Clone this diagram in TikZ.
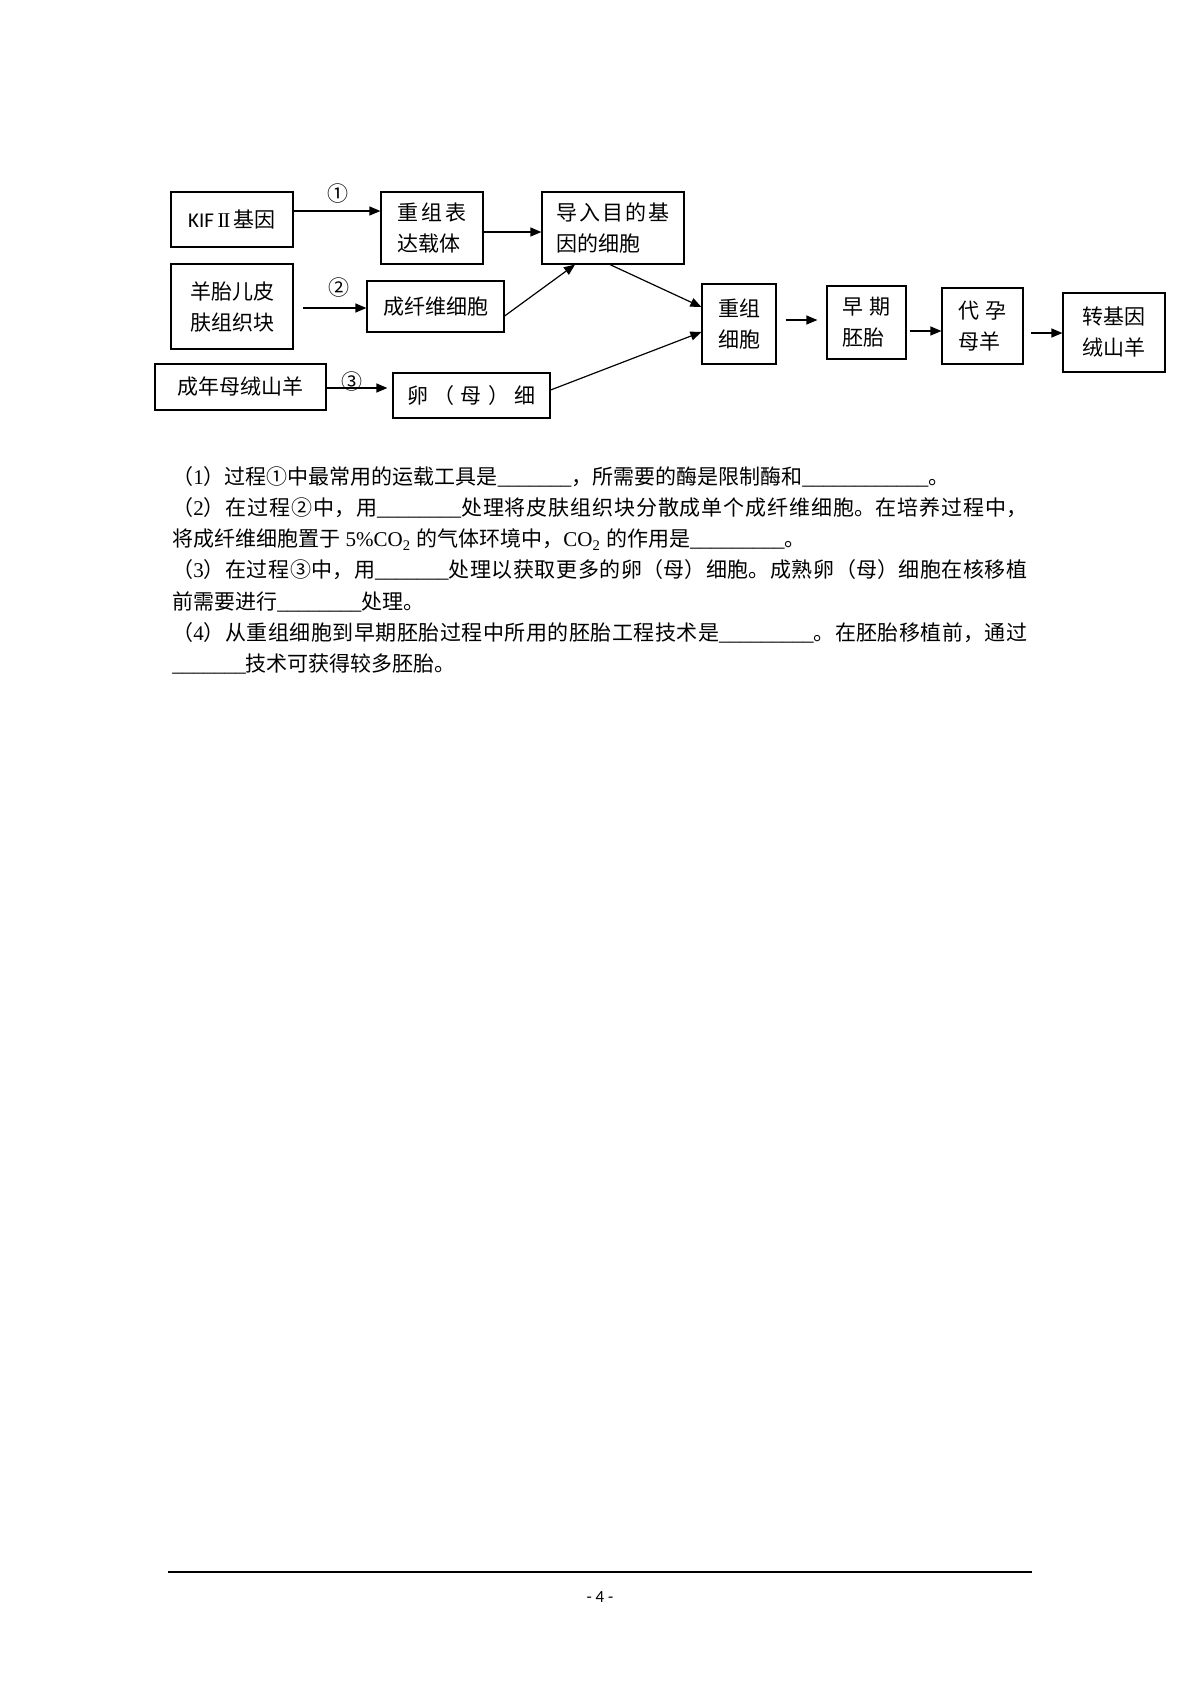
\documentclass[tikz,border=0pt]{standalone}
\usepackage{fontspec}
\setmainfont{Noto Sans CJK SC}
\newfontfamily\tnr{Liberation Serif}
\newfontfamily\calfont{Carlito}
\usetikzlibrary{arrows.meta}
\XeTeXlinebreaklocale "zh"
\XeTeXlinebreakskip=0pt plus 1pt
\newcommand{\ul}[1]{{\tnr\foreach\i in {1,...,#1}{\_}}}
\begin{document}
\begin{tikzpicture}[x=0.5pt,y=-0.5pt,
  bx/.style={draw, line width=0.6pt, inner sep=0pt, align=left, font=\fontsize{10.5pt}{15.5pt}\selectfont},
  sz/.style 2 args={minimum width=#1*0.5pt, minimum height=#2*0.5pt},
  arr/.style={line width=0.6pt, -{Triangle[length=5.5pt,width=4.5pt]}},
  num/.style={inner sep=0pt, font=\fontsize{10.5pt}{12pt}\selectfont},
  txt/.style={inner sep=0pt, anchor=west, font=\fontsize{10.5pt}{15.8pt}\selectfont},
  jtxt/.style={txt, text width=427.5pt, align=justify}]
\fill[white] (0,0) rectangle (1200,1698);
\useasboundingbox (0,0) rectangle (1200,1698);

% boxes
\node[bx, sz={122}{55}] (kif) at (232,219.5) {{\calfont KIF}\,{\tnr I\kern-0.6pt I}\,基因};
\node[bx, sz={102}{72}] (vec) at (432,228) {重\hspace{1.5pt}组\hspace{1.5pt}表\\达载体};
\node[bx, sz={142}{72}] (dao) at (613,228) {导\hspace{1pt}入\hspace{1pt}目\hspace{1pt}的\hspace{1pt}基\\因的细胞};
\node[bx, sz={122}{85}] (yang) at (232,306.5) {羊胎儿皮\\肤组织块};
\node[bx, sz={137}{51}] (fib) at (435.5,306.5) {成纤维细胞};
\node[bx, sz={171}{46}] (mu) at (240.5,387) {成年母绒山羊};
\node[bx, sz={157}{45}] (egg) at (471.5,395.5) {卵\hspace{3pt}（\hspace{3pt}母\hspace{3pt}）\hspace{3pt}细};
\node[bx, sz={74}{80}] (chong) at (739,324) {重组\\细胞};
\node[bx, sz={79}{73}] (zao) at (866.5,322.5) {早\hspace{3pt}期\\胚胎};
\node[bx, sz={81}{76}] (dai) at (982.5,326) {代\hspace{3pt}孕\\母羊};
\node[bx, sz={102}{79}] (zhuan) at (1114,332.5) {转基因\\绒山羊};

% circled numbers
\node[num] (n1) at (338,194) {①};
\node[num] (n2) at (339,288) {②};
\node[num] (n3) at (352,382) {③};

% arrows
\draw[arr] ([yshift=4.25pt]kif.east) -- ([yshift=8.5pt]vec.west);
\draw[arr] ([yshift=-2pt]vec.east) -- ([yshift=-2pt]dao.west);
\draw[arr] ([xshift=4.5pt,yshift=-0.75pt]yang.east) -- ([yshift=-0.75pt]fib.west);
\draw[arr] ([yshift=-4.75pt]fib.east) -- ([xshift=-19pt]dao.south);
\draw[arr] ([yshift=-0.5pt]mu.east) -- ([xshift=-2.5pt,yshift=3.75pt]egg.west);
\draw[arr] ([xshift=-1.5pt]dao.south) -- ([yshift=8.5pt]chong.west);
\draw[arr] ([yshift=2.75pt]egg.east) -- ([yshift=-4pt]chong.west);
\draw[arr] ([xshift=4.5pt,yshift=2pt]chong.east) -- ([xshift=-4.5pt,yshift=1.25pt]zao.west);
\draw[arr] ([xshift=1.5pt,yshift=-4.25pt]zao.east) -- ([yshift=-2.5pt]dai.west);
\draw[arr] ([xshift=3.5pt,yshift=-3.5pt]dai.east) -- ([yshift=-0.25pt]zhuan.west);

% question text
\node[txt] (l1) at (172,478) {\strut （{\tnr 1}）过程①中最常用的运载工具是\ul{7}，所需要的酶是限制酶和\ul{12}。};
\node[jtxt] (l2) at (172,509.2) {\parfillskip=0pt\strut （{\tnr 2}）在过程②中，用\ul{8}处理将皮肤组织块分散成单个成纤维细胞。在培养过程中，\par};
\node[txt] (l3) at (172,540.4) {\strut 将成纤维细胞置于{\tnr\ 5\%CO\textsubscript{2} }的气体环境中，{\tnr CO\textsubscript{2} }的作用是\ul{9}。};
\node[jtxt] (l4) at (172,571.6) {\parfillskip=0pt\strut （{\tnr 3}）在过程③中，用\ul{7}处理以获取更多的卵（母）细胞。成熟卵（母）细胞在核移植\par};
\node[txt] (l5) at (172,602.8) {\strut 前需要进行\ul{8}处理。};
\node[jtxt] (l6) at (172,634) {\parfillskip=0pt\strut （{\tnr 4}）从重组细胞到早期胚胎过程中所用的胚胎工程技术是\ul{9}。在胚胎移植前，通过\par};
\node[txt] (l7) at (172,665.2) {\strut \ul{7}技术可获得较多胚胎。};

% footer
\coordinate (fl) at (168,1572);
\coordinate (fr) at (1032,1572);
\draw[line width=0.6pt] (fl) -- (fr);
\node[inner sep=0pt, font=\calfont\fontsize{8.5pt}{10pt}\selectfont] (pg) at (600,1597) {- 4 -};
\end{tikzpicture}
\end{document}
